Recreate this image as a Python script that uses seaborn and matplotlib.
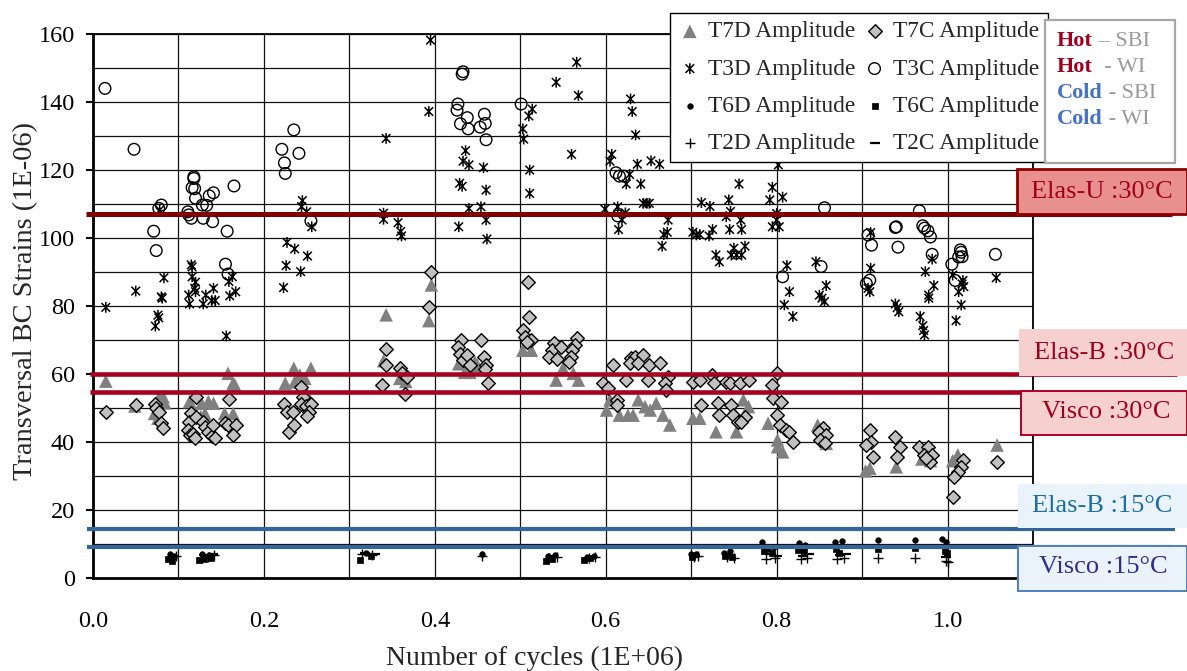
import numpy as np
import pandas as pd
import matplotlib
matplotlib.use("Agg")
import matplotlib.pyplot as plt
import seaborn as sns
from matplotlib.patches import Rectangle
from matplotlib.path import Path
from matplotlib.ticker import MultipleLocator, FormatStrFormatter

# ---------------- data (cycles in 1E+06, strains in 1E-06) ----------------
t7d_x = [.015, .049, .072, .077, .082, .084, .076, .113, .118, .126, .127, .131, .135, .141, .154, .164, .164,
         .158, .166, .225, .235, .236, .242, .248, .255, .248, .343, .340, .359, .366, .396, .393, .428, .435,
         .441, .450, .447, .503, .508, .513, .550, .542, .562, .568, .601, .605, .616, .626, .632, .638, .646,
         .652, .659, .667, .675, .702, .710, .729, .749, .753, .761, .767, .790, .801, .801, .807, .848, .858,
         .904, .909, .940, .970, .975, .980, 1.006, 1.012, 1.058]
t7d_y = [57.9, 50.6, 48.4, 53.0, 53.3, 51.5, 47.0, 51.9, 49.5, 47.5, 51.4, 48.4, 51.9, 51.4, 48.4, 48.4, 57.3,
         60.2, 56.8, 57.3, 61.7, 57.7, 59.7, 58.7, 61.7, 55.3, 77.4, 63.9, 58.7, 57.8, 86.2, 75.7, 63.0, 60.5,
         60.5, 62.5, 63.5, 67.0, 69.5, 67.0, 61.7, 58.2, 60.2, 58.2, 49.4, 52.4, 47.9, 47.9, 47.9, 52.4, 50.4,
         49.4, 51.4, 47.9, 45.0, 47.0, 47.0, 43.0, 49.4, 43.0, 52.4, 50.4, 45.5, 40.6, 38.6, 37.1, 45.0, 39.6,
         31.5, 32.3, 32.7, 35.0, 36.0, 34.5, 34.5, 36.2, 39.1]

t7c_x = [.015, .050, .072, .074, .077, .080, .082, .120, .115, .112, .121, .111, .113, .117, .119, .129, .131,
         .134, .139, .143, .141, .159, .155, .158, .167, .164, .229, .235, .223, .227, .234, .243, .246, .243,
         .249, .255, .253, .250, .343, .343, .338, .359, .362, .367, .365, .396, .393, .431, .427, .429, .433,
         .438, .441, .454, .457, .460, .459, .462, .509, .510, .503, .506, .513, .508, .540, .537, .534, .543,
         .548, .566, .564, .561, .559, .557, .609, .597, .603, .613, .613, .630, .634, .644, .628, .638, .651,
         .663, .624, .649, .673, .669, .671, .702, .710, .724, .727, .741, .745, .757, .768, .712, .731, .747,
         .733, .749, .755, .763, .758, .794, .800, .796, .805, .801, .804, .811, .815, .819, .854, .849, .858,
         .851, .857, .909, .911, .905, .913, .939, .944, .941, .967, .977, .973, .982, .979, .975, 1.018, 1.016,
         1.012, 1.008, 1.006, 1.058]
t7c_y = [48.7, 50.9, 51.2, 50.0, 48.7, 45.5, 44.1, 53.3, 48.4, 46.0, 47.5, 43.5, 42.0, 42.5, 41.2, 46.0, 44.5,
         43.0, 41.8, 41.3, 45.0, 52.6, 45.5, 45.0, 45.0, 42.1, 43.0, 45.0, 51.2, 48.9, 48.8, 56.3, 53.3, 51.2,
         50.5, 51.2, 48.8, 47.7, 67.3, 62.6, 56.8, 61.8, 60.2, 59.2, 54.1, 90.1, 79.6, 70.0, 68.0, 66.0, 64.0,
         65.5, 62.6, 70.0, 65.0, 62.6, 61.5, 57.4, 87.1, 76.8, 72.9, 71.0, 70.0, 69.5, 69.0, 67.0, 65.0, 64.5,
         68.0, 70.5, 68.5, 67.0, 65.0, 63.6, 62.6, 57.4, 55.8, 52.4, 50.9, 64.6, 65.1, 65.6, 63.1, 63.1, 62.6,
         63.1, 58.2, 58.2, 59.2, 57.3, 55.3, 57.7, 58.2, 59.7, 57.3, 57.7, 57.3, 57.3, 58.2, 50.9, 51.4, 50.9,
         47.9, 47.9, 46.0, 47.5, 46.0, 56.8, 60.2, 52.9, 51.9, 47.9, 45.0, 43.5, 43.0, 40.1, 44.0, 43.0, 42.1,
         40.6, 39.7, 43.5, 40.1, 39.1, 35.7, 41.6, 38.6, 35.7, 38.6, 38.6, 36.2, 36.2, 34.2, 35.2, 34.7, 32.7,
         31.3, 29.8, 23.9, 34.2]

t3d_x = [.015, .050, .080, .081, .083, .076, .077, .073, .078, .115, .116, .116, .120, .119, .120, .112, .113,
         .129, .132, .141, .139, .143, .160, .167, .163, .159, .156, .245, .244, .250, .256, .227, .236, .251,
         .226, .243, .223, .343, .340, .340, .357, .360, .361, .395, .393, .436, .433, .440, .457, .429, .432,
         .460, .440, .454, .460, .428, .461, .514, .510, .503, .504, .511, .511, .566, .542, .568, .560, .629,
         .631, .635, .607, .605, .637, .653, .663, .628, .624, .641, .599, .614, .623, .619, .615, .644, .648,
         .651, .673, .672, .668, .666, .712, .702, .706, .802, .756, .795, .722, .744, .792, .807, .741, .746,
         .758, .800, .800, .795, .803, .745, .759, .725, .721, .710, .750, .763, .747, .753, .759, .729, .733,
         .812, .846, .815, .809, .819, .858, .850, .853, .856, .910, .910, .907, .909, .939, .941, .943, .974,
         .984, .978, .978, .968, .971, .972, .973, 1.006, 1.018, 1.017, 1.019, 1.013, 1.016, 1.010, 1.057, .982]
t3d_y = [79.6, 84.4, 82.7, 82.3, 88.3, 77.3, 76.5, 74.1, 108.2, 92.1, 91.5, 88.6, 87.0, 85.2, 84.2, 83.2, 80.6,
         80.6, 83.2, 85.2, 81.6, 81.6, 83.0, 84.2, 88.6, 87.2, 71.2, 111.0, 109.2, 107.7, 103.3, 98.7, 96.8,
         94.7, 91.9, 90.1, 85.4, 129.3, 107.3, 105.5, 104.5, 101.9, 100.6, 158.2, 137.2, 125.7, 122.6, 121.5,
         120.7, 116.1, 115.2, 114.1, 108.7, 109.2, 105.3, 103.3, 99.7, 137.9, 135.9, 132.1, 129.1, 120.0, 113.1,
         151.7, 145.8, 141.9, 124.6, 140.9, 137.2, 130.3, 124.6, 122.6, 121.7, 122.7, 121.7, 118.7, 115.9, 115.9,
         108.5, 109.2, 107.4, 105.3, 102.5, 110.2, 110.2, 110.2, 105.3, 101.7, 101.0, 97.6, 110.4, 101.7, 100.9,
         121.5, 115.9, 114.9, 109.3, 111.2, 111.2, 112.0, 106.3, 107.8, 105.3, 107.2, 105.3, 103.3, 103.3, 102.5,
         102.5, 102.5, 100.6, 101.0, 97.0, 97.6, 95.0, 95.0, 95.0, 95.0, 93.0, 91.9, 93.0, 84.2, 80.3, 76.9,
         86.0, 83.2, 82.3, 81.3, 101.6, 91.1, 85.2, 84.2, 80.6, 79.5, 78.3, 90.1, 86.0, 83.2, 82.3, 76.9, 74.2,
         72.8, 71.5, 89.1, 87.5, 86.5, 85.7, 84.2, 80.3, 75.7, 88.3, 93.8]

t3c_x = [.014, .048, .080, .077, .071, .074, .118, .118, .116, .119, .120, .111, .112, .115, .128, .133, .136,
         .141, .129, .140, .165, .157, .155, .158, .235, .221, .241, .224, .225, .255, .433, .432, .427, .426,
         .438, .430, .439, .458, .459, .453, .460, .501, .612, .616, .621, .614, .856, .967, .939, .940, .971,
         .973, .977, .980, .907, .911, .942, .982, 1.015, 1.016, 1.017, 1.013, 1.005, 1.009, 1.056, .852, .807,
         .909, .905]
t3c_y = [144.0, 126.1, 109.7, 108.7, 102.0, 96.3, 118.0, 117.5, 114.8, 114.5, 111.7, 107.7, 106.8, 105.8,
         109.7, 109.6, 112.4, 113.3, 105.8, 104.8, 115.3, 102.0, 92.3, 89.4, 131.8, 126.1, 124.9, 122.1, 119.0,
         105.0, 148.9, 148.2, 139.4, 137.6, 135.4, 133.6, 132.1, 136.4, 133.7, 132.6, 128.9, 139.4, 119.2, 118.2,
         118.2, 106.5, 108.9, 108.0, 103.1, 103.3, 103.6, 102.9, 102.1, 100.3, 100.9, 97.9, 97.3, 95.2, 96.5,
         95.8, 94.5, 94.4, 92.3, 87.5, 95.2, 91.6, 88.6, 87.6, 86.6]

t6d_x = [.090, .095, .128, .136, .320, .455, .532, .541, .578, .586, .700, .706, .738, .746, .783, .790, .797,
         .826, .833, .868, .876, .919, .962, .994, .998]
t6d_y = [7.0, 6.5, 7.2, 6.8, 7.5, 7.2, 6.5, 6.8, 6.2, 6.5, 7.0, 7.2, 7.5, 7.8, 10.5, 8.5, 9.0, 10.2, 9.8,
         10.5, 10.8, 11.2, 11.2, 11.5, 10.5]
t6c_x = [.088, .093, .124, .130, .138, .312, .325, .530, .537, .575, .582, .701, .740, .748, .785, .795, .825,
         .832, .870, .873, .919, .962, .997, .999]
t6c_y = [5.5, 5.0, 5.2, 5.5, 6.0, 5.3, 6.5, 5.0, 5.5, 5.3, 5.8, 6.2, 6.5, 6.2, 8.0, 7.5, 8.2, 7.8, 8.5, 7.5,
         8.5, 8.8, 8.0, 7.3]
t2d_x = [.092, .097, .127, .135, .142, .315, .326, .455, .534, .543, .580, .588, .703, .708, .742, .750, .788,
         .798, .829, .836, .871, .879, .919, .962, .998, 1.000]
t2d_y = [6.0, 6.5, 6.0, 6.3, 6.8, 7.0, 6.8, 6.5, 6.0, 6.3, 6.0, 6.2, 6.3, 6.5, 6.3, 6.0, 5.5, 5.8, 5.5, 6.0,
         5.5, 5.8, 5.8, 5.8, 5.0, 4.6]
t2c_x = [.094, .130, .140, .318, .330, .538, .584, .705, .745, .792, .800, .831, .838, .874, .881, .998]
t2c_y = [6.5, 6.8, 7.0, 7.5, 7.0, 6.5, 6.3, 6.8, 6.8, 7.0, 6.5, 6.5, 7.0, 6.8, 7.0, 6.3]

# reference strain levels
ref_names = ["Elas-U :30°C", "Elas-B :30°C", "Visco :30°C", "Elas-B :15°C", "Visco :15°C"]
ref_values = [107.1, 59.9, 54.7, 14.5, 9.1]

legend_labels = ["T7D Amplitude", "T3D Amplitude", "T6D Amplitude", "T2D Amplitude",
                 "T7C Amplitude", "T3C Amplitude", "T6C Amplitude", "T2C Amplitude"]

# ---------------- style ----------------
sns.set_style("white")
plt.rcParams['font.family'] = ['Liberation Serif', 'DejaVu Serif']

W, H = 1187, 671
fig = plt.figure(figsize=(W / 100, H / 100), dpi=100)
ax = fig.add_axes([93 / W, 1 - 578 / H, 940 / W, 544 / H])


def fx(px):
    return px / W


def fy(py):
    return 1 - py / H


# Excel-like star: an "x" with a vertical bar
star = Path([(0, -1), (0, 1), (-0.8, -0.8), (0.8, 0.8), (-0.8, 0.8), (0.8, -0.8)],
            [Path.MOVETO, Path.LINETO, Path.MOVETO, Path.LINETO, Path.MOVETO, Path.LINETO])

series = [
    (t7d_x, t7d_y, dict(marker="^", s=95, color="#808080", edgecolor="none", linewidth=0)),
    (t3d_x, t3d_y, dict(marker=star, s=60, facecolor="none", edgecolor="black", linewidth=1.1)),
    (t6d_x, t6d_y, dict(marker="o", s=16, color="black", edgecolor="black", linewidth=0.5)),
    (t2d_x, t2d_y, dict(marker="+", s=55, color="black", linewidth=1.0)),
    (t7c_x, t7c_y, dict(marker="D", s=48, color="#c0c0c0", edgecolor="black", linewidth=1.0)),
    (t3c_x, t3c_y, dict(marker="o", s=70, facecolor="none", edgecolor="black", linewidth=1.0)),
    (t6c_x, t6c_y, dict(marker="s", s=16, color="black", edgecolor="black", linewidth=0.5)),
    (t2c_x, t2c_y, dict(marker="_", s=45, color="black", linewidth=1.6)),
]
for (xs, ys, kw), lab in zip(series, legend_labels):
    df = pd.DataFrame({"cycles": xs, "strain": ys})
    sns.scatterplot(data=df, x="cycles", y="strain", ax=ax, label=lab, zorder=3, **kw)

# reference lines (extend outside the plot area)
line_specs = [
    (ref_values[0], "#7f0000", 3.6, -0.008, 1.263),
    (ref_values[1], "#a50021", 3.3, -0.0035, 1.269),
    (ref_values[2], "#a50021", 3.3, -0.0035, 1.269),
    (ref_values[3], "#336699", 3.0, -0.007, 1.266),
    (ref_values[4], "#336699", 3.0, -0.007, 1.263),
]
for yv, col, lw, x0, x1 in line_specs:
    ax.plot([x0, x1], [yv, yv], color=col, lw=lw, clip_on=False, zorder=4, solid_capstyle="butt")

# axes formatting
ax.set_xlim(0, 1.1)
ax.set_ylim(0, 160)
ax.xaxis.set_major_locator(MultipleLocator(0.2))
ax.xaxis.set_minor_locator(MultipleLocator(0.1))
ax.yaxis.set_major_locator(MultipleLocator(20))
ax.yaxis.set_minor_locator(MultipleLocator(10))
ax.xaxis.set_major_formatter(FormatStrFormatter("%.1f"))
ax.set_axisbelow(True)
ax.grid(which="both", color="#111111", lw=0.9)
ax.tick_params(axis="x", which="both", length=0, pad=24, labelsize=17.5, colors="black")
ax.tick_params(axis="y", which="major", length=5, width=1.5, direction="out", pad=8,
               labelsize=17.5, colors="black", left=True)
ax.tick_params(axis="y", which="minor", length=0)
for side, sp in ax.spines.items():
    sp.set_color("black")
    sp.set_linewidth(2.0 if side in ("left", "bottom") else 1.3)

ax.set_xlabel("Number of cycles (1E+06)", fontsize=20)
ax.set_ylabel("Transversal BC Strains (1E-06)", fontsize=20.5)
ax.xaxis.set_label_coords((535 - 93) / 940, (578 - 646) / 544)
ax.yaxis.set_label_coords((38 - 93) / 940, 0.51)

# legend
handles, labels = ax.get_legend_handles_labels()
leg = ax.legend(handles, labels, ncol=2, loc="upper left",
                bbox_to_anchor=(fx(670), fy(13)), bbox_transform=fig.transFigure,
                fontsize=16.8, frameon=True, fancybox=False, framealpha=1,
                edgecolor="black", borderpad=0.35, labelspacing=0.68,
                handlelength=1.0, handletextpad=0.3, columnspacing=0.3, borderaxespad=0)
leg.get_frame().set_linewidth(1.0)
leg.set_zorder(10)


# boxes on the right
def add_box(x0, y0, x1, y1, face, edge=None, lw=0.0, zorder=20):
    r = Rectangle((fx(x0), fy(y1)), fx(x1) - fx(x0), fy(y0) - fy(y1), transform=fig.transFigure,
                  facecolor=face, edgecolor=edge if edge else "none", linewidth=lw, zorder=zorder)
    fig.add_artist(r)


box_specs = [
    ((1017, 169, 1187, 214), "#e8908e", "#8b0000", 2.0, (1102, 192), "#a0001e"),
    ((1019, 329, 1187, 376), "#f6cfcf", None, 0.0, (1104, 353), "#a0001e"),
    ((1021, 391, 1187, 435), "#f6cfcf", "#b00024", 1.4, (1106, 412), "#a0001e"),
    ((1018, 484, 1187, 528), "#eaf3fc", None, 0.0, (1102, 506), "#1a6fa0"),
    ((1018, 546, 1187, 591), "#eaf3fc", "#4f7fbf", 1.4, (1103, 567), "#2e2e8f"),
]
for spec, name in zip(box_specs, ref_names):
    (x0, y0, x1, y1), face, edge, lw, (tx, ty), tc = spec
    add_box(x0, y0, x1, y1, face, edge, lw)
    fig.text(fx(tx), fy(ty), name, color=tc, fontsize=19, ha="center", va="center", zorder=21)

# Hot / Cold key box
add_box(1045, 20, 1175, 163, "white", "#a6a6a6", 1.6, zorder=20)
renderer = fig.canvas.get_renderer()
key_rows = [("Hot", " \u2013 SBI", "#a0001e", 41), ("Hot", "  - WI", "#a0001e", 67),
            ("Cold", " - SBI", "#4472c4", 93), ("Cold", " - WI", "#4472c4", 119)]
for word, rest, col, yy in key_rows:
    t1 = fig.text(fx(1057), fy(yy), word, color=col, fontsize=16, fontweight="bold",
                  ha="left", va="center", zorder=21)
    bb = t1.get_window_extent(renderer=renderer)
    fig.text(bb.x1 / W, fy(yy), rest, color="#9a9a9a", fontsize=16, ha="left", va="center", zorder=21)

fig.savefig("out.png", dpi=100)
